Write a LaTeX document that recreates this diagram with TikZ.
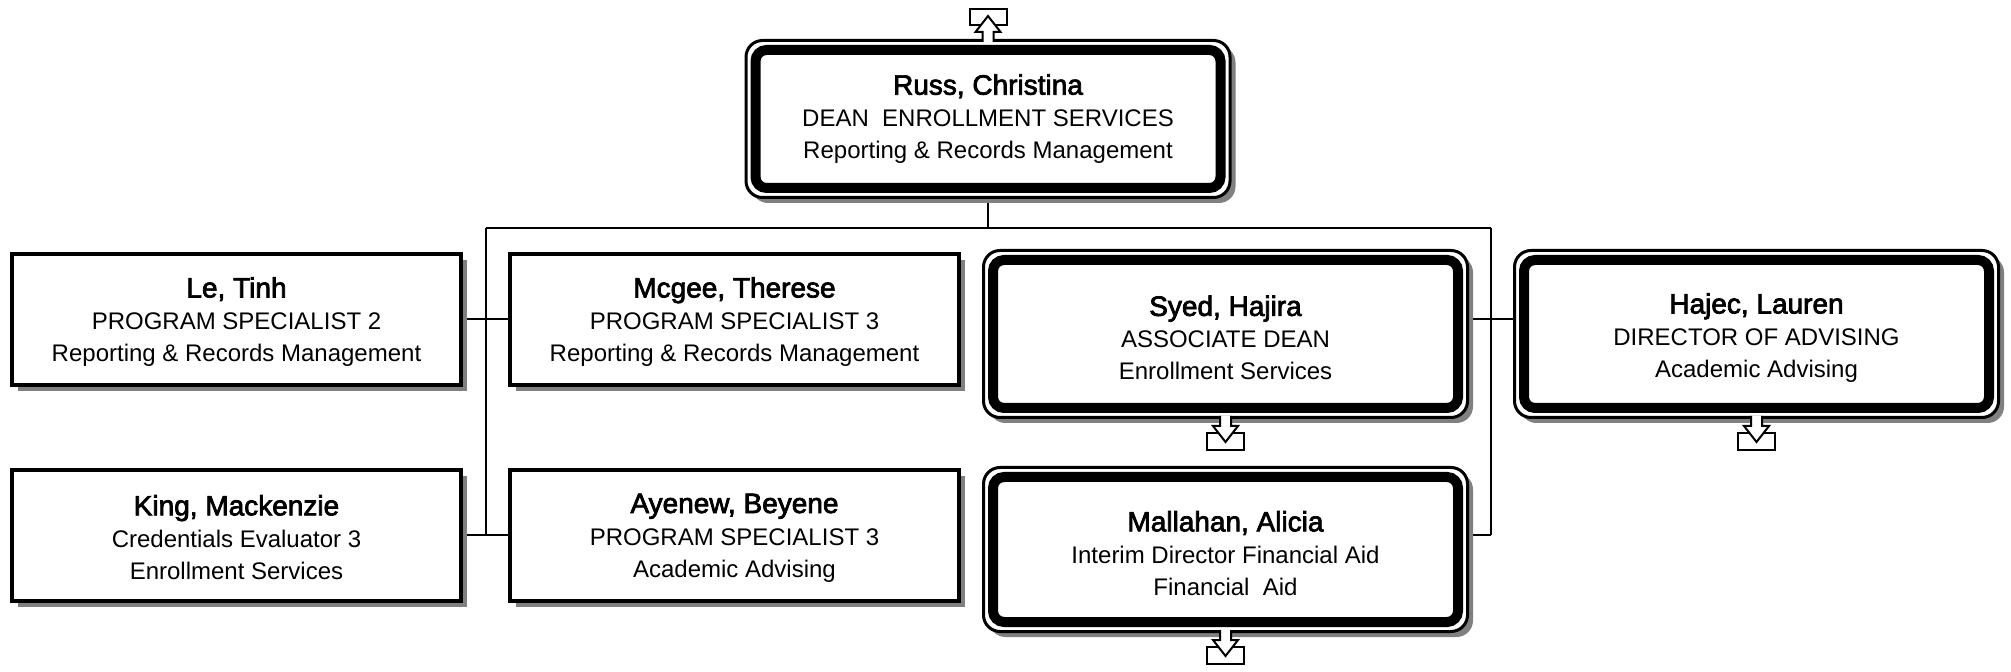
\documentclass[tikz,border=0pt]{standalone}
\usepackage{fontspec}
\setmainfont{Liberation Sans}
\newfontfamily\namefont[FakeBold=2.6]{Liberation Sans}
\usetikzlibrary{shadows}
\pgfdeclarelayer{background}
\pgfsetlayers{background,main}
\newcommand\nm[1]{{\namefont\fontsize{14}{16}\selectfont #1}}
\newcommand\innerframe[1]{\draw[line width=5pt, rounded corners=5.5pt]
  ([shift={(9.5,9.5)}]#1.north west) rectangle ([shift={(-9.5,-9.5)}]#1.south east);}
\tikzset{
  conn/.style={line width=0.9pt},
  txt/.style={align=center, font=\fontsize{12}{16}\selectfont, inner sep=0pt, outer sep=0pt},
  pbox/.style={txt, draw, line width=2pt, fill=white,
    minimum width=224.5pt, minimum height=65.5pt,
    drop shadow={shadow xshift=3pt, shadow yshift=-3pt, fill=gray, opacity=1}},
  dbox/.style={txt, draw, line width=1.5pt, fill=white, rounded corners=8.25pt,
    minimum width=242pt, minimum height=83.5pt,
    drop shadow={shadow xshift=2.75pt, shadow yshift=-2.75pt, fill=gray, opacity=1}},
  icon/.style={draw, line width=1pt, fill=white, line join=miter},
  downtray/.pic={
    \draw[icon] (-18.5,17) rectangle (18.5,34);
    \draw[icon] (-5.5,0) -- (-5.5,10) -- (-12.5,10) -- (0,26) -- (12.5,10) -- (5.5,10) -- (5.5,0);
  },
  uptray/.pic={
    \draw[icon] (-18.5,-17) rectangle (18.5,-33);
    \draw[icon] (-5.5,0) -- (-5.5,-10) -- (-12.5,-10) -- (0,-26) -- (12.5,-10) -- (5.5,-10) -- (5.5,0);
  }
}
\begin{document}
\begin{tikzpicture}[x=0.5pt,y=-0.5pt]
\useasboundingbox (0,0) rectangle (2011,672);
% boxes
\node[dbox, minimum height=78.5pt] (russ) at (988,119)
  {\nm{Russ, Christina}\\DEAN\ \ ENROLLMENT SERVICES\\Reporting \& Records Management};
\innerframe{russ}
\node[pbox] (letinh) at (236.5,320)
  {\nm{\rule{0pt}{12pt}Le, Tinh}\\PROGRAM SPECIALIST 2\\Reporting \& Records Management};
\node[pbox] (mcgee) at (734.5,320)
  {\nm{\rule{0pt}{12pt}Mcgee, Therese}\\PROGRAM SPECIALIST 3\\Reporting \& Records Management};
\node[pbox] (king) at (236.5,535.5)
  {\nm{\rule{0pt}{12pt}King, Mackenzie}\\Credentials Evaluator 3\\Enrollment Services};
\node[pbox] (ayenew) at (734.5,535.5)
  {\nm{\rule{0pt}{12pt}Ayenew, Beyene}\\PROGRAM SPECIALIST 3\\Academic Advising};
\node[dbox] (syed) at (1225.5,334)
  {\nm{\rule{0pt}{14pt}Syed, Hajira}\\ASSOCIATE DEAN\\Enrollment Services};
\innerframe{syed}
\node[dbox] (hajec) at (1756.5,334)
  {\nm{\rule{0pt}{14pt}Hajec, Lauren}\\DIRECTOR OF ADVISING\\Academic Advising};
\innerframe{hajec}
\node[dbox, minimum height=82pt] (mallahan) at (1225.5,549.5)
  {\nm{\rule{0pt}{14pt}Mallahan, Alicia}\\Interim Director Financial Aid\\Financial\ \ Aid};
\innerframe{mallahan}
% icons
\pic at ([yshift=-0.75pt]russ.north) {uptray};
\pic at ([yshift=0.75pt]syed.south) {downtray};
\pic at ([yshift=0.75pt]hajec.south) {downtray};
\pic at ([yshift=0.75pt]mallahan.south) {downtray};
% connectors
\begin{pgfonlayer}{background}
\fill[white] (0,0) rectangle (2011,672);
\coordinate (busL) at (486,228);
\coordinate (busR) at (1491,228);
\coordinate (r1) at (0,319);
\coordinate (r2) at (0,535);
\draw[conn] (russ.south) -- (russ.south |- busL);
\draw[conn] (busL) -- (busR);
\draw[conn] (busL) -- (busL |- r2);
\draw[conn] (busR) -- (busR |- r2);
\draw[conn] (letinh.east |- r1) -- (mcgee.west |- r1);
\draw[conn] (king.east |- r2) -- (ayenew.west |- r2);
\draw[conn] (syed.east |- r1) -- (hajec.west |- r1);
\draw[conn] (mallahan.east |- r2) -- (busR |- r2);
\end{pgfonlayer}
\end{tikzpicture}
\end{document}
